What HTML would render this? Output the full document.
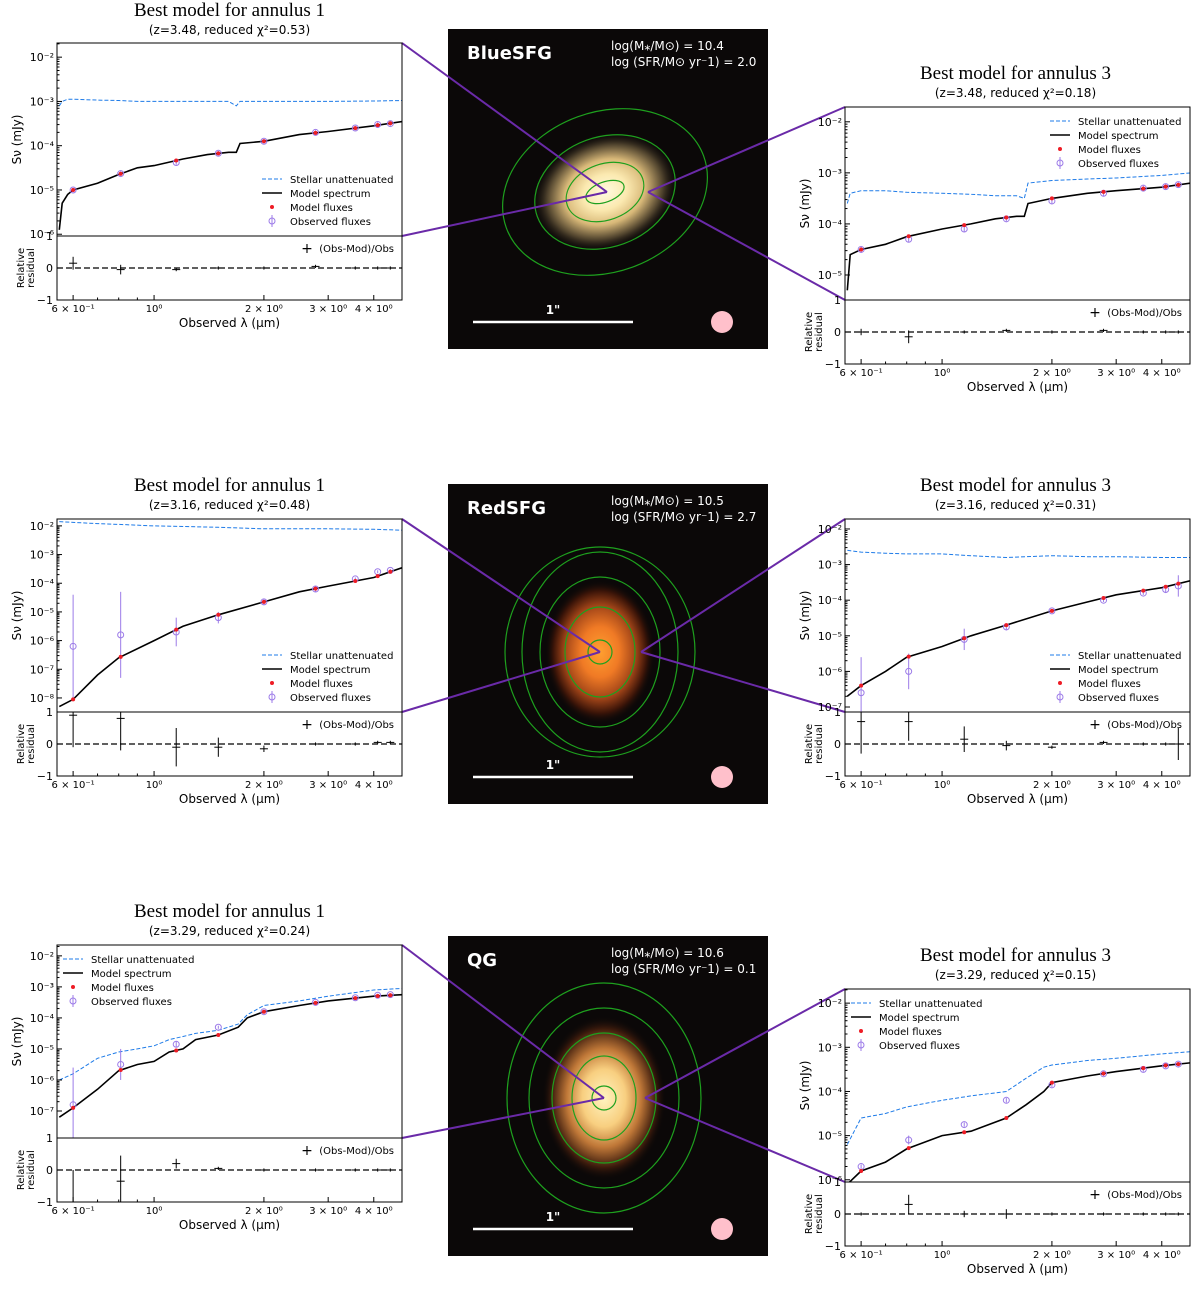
<!DOCTYPE html>
<html><head><meta charset="utf-8"><style>
body{margin:0;background:#fff;}
svg{display:block;font-family:"DejaVu Sans","Liberation Sans",sans-serif;}
</style></head><body>
<svg id="fig" width="1200" height="1293" viewBox="0 0 1200 1293" xmlns="http://www.w3.org/2000/svg">
<defs>
<radialGradient id="gBlue" cx="50%" cy="50%" r="50%"><stop offset="0" stop-color="#fffbe0"/><stop offset="0.3" stop-color="#fbe9b0"/><stop offset="0.55" stop-color="#d8b878"/><stop offset="0.8" stop-color="#4a3e2a"/><stop offset="1" stop-color="#0b0808" stop-opacity="0"/></radialGradient>
<radialGradient id="gRed" cx="50%" cy="50%" r="50%"><stop offset="0" stop-color="#ffa030"/><stop offset="0.35" stop-color="#f07a25"/><stop offset="0.65" stop-color="#a04418"/><stop offset="0.85" stop-color="#3a1408"/><stop offset="1" stop-color="#0b0808" stop-opacity="0"/></radialGradient>
<radialGradient id="gQ" cx="50%" cy="50%" r="50%"><stop offset="0" stop-color="#fff4c0"/><stop offset="0.35" stop-color="#f8cf80"/><stop offset="0.6" stop-color="#c07838"/><stop offset="0.85" stop-color="#3a1a0c"/><stop offset="1" stop-color="#0b0808" stop-opacity="0"/></radialGradient>
</defs>
</svg>
<script>
// ---- data arrays ----
const lamFlux=[0.6,0.81,1.15,1.5,2.0,2.77,3.56,4.1,4.44];
// panel 1 (BlueSFG annulus 1)
const p1Lam=[0.55,0.56,0.58,0.6,0.7,0.8,0.9,1.0,1.2,1.4,1.6,1.68,1.72,2.0,2.5,3.0,4.0,4.8];
const p1Model=[-5.9,-5.3,-5.1,-5.0,-4.85,-4.65,-4.5,-4.45,-4.3,-4.2,-4.15,-4.15,-3.95,-3.9,-3.75,-3.68,-3.55,-3.45];
const p1Stellar=[-3.1,-3.0,-2.95,-2.95,-2.97,-2.98,-3.0,-3.0,-3.0,-3.0,-3.0,-3.1,-3.0,-3.0,-3.0,-3.0,-2.99,-2.98];
const p1Obs=[-5.0,-4.63,-4.38,-4.17,-3.9,-3.7,-3.6,-3.52,-3.5];
const p1Res=[0.15,-0.05,-0.05,0.0,0.0,0.05,0.0,0.0,0.0];
const p1Err=[0.2,0.15,0.05,0.05,0.05,0.05,0.05,0.05,0.05];
// panel 2 (BlueSFG annulus 3)
const p2Lam=[0.55,0.56,0.6,0.7,0.8,1.0,1.2,1.4,1.6,1.68,1.72,2.0,2.5,3.0,4.0,4.8];
const p2Model=[-5.3,-4.6,-4.5,-4.4,-4.25,-4.1,-4.0,-3.9,-3.85,-3.85,-3.6,-3.5,-3.4,-3.35,-3.28,-3.2];
const p2Stellar=[-3.6,-3.4,-3.35,-3.35,-3.38,-3.4,-3.42,-3.45,-3.45,-3.5,-3.2,-3.15,-3.12,-3.1,-3.05,-3.0];
const p2Obs=[-4.5,-4.3,-4.1,-3.9,-3.55,-3.4,-3.3,-3.27,-3.23];
const p2Res=[0.0,-0.15,0.0,0.05,0.0,0.05,0.0,0.0,0.0];
const p2Err=[0.1,0.2,0.05,0.05,0.05,0.05,0.05,0.05,0.05];
// panel 3 (RedSFG annulus 1)
const p3Lam=[0.55,0.6,0.7,0.8,1.0,1.2,1.5,2.0,2.5,3.0,4.0,4.8];
const p3Model=[-8.3,-8.05,-7.2,-6.6,-6.0,-5.5,-5.1,-4.65,-4.3,-4.1,-3.8,-3.45];
const p3Stellar=[-1.85,-1.88,-1.92,-1.95,-2.0,-2.02,-2.05,-2.1,-2.1,-2.1,-2.12,-2.15];
const p3Obs=[-6.2,-5.8,-5.7,-5.2,-4.65,-4.2,-3.85,-3.6,-3.55];
const p3ObsErr=[1.8,1.5,0.5,0.2,0.1,0.1,0.05,0.05,0.05];
const p3Res=[0.9,0.8,-0.1,-0.1,-0.15,0.0,0.0,0.05,0.05];
const p3Err=[1.0,1.0,0.6,0.3,0.1,0.05,0.05,0.05,0.05];
// panel 4 (RedSFG annulus 3)
const p4Lam=[0.55,0.6,0.7,0.8,1.0,1.2,1.5,2.0,2.5,3.0,4.0,4.8];
const p4Model=[-6.7,-6.4,-6.0,-5.6,-5.3,-5.0,-4.7,-4.3,-4.05,-3.85,-3.65,-3.45];
const p4Stellar=[-2.6,-2.65,-2.68,-2.7,-2.7,-2.75,-2.8,-2.75,-2.78,-2.78,-2.8,-2.8];
const p4Obs=[-6.6,-6.0,-5.1,-4.75,-4.3,-4.0,-3.8,-3.7,-3.6];
const p4ObsErr=[1.0,0.5,0.3,0.1,0.05,0.05,0.05,0.1,0.3];
const p4Res=[0.7,0.7,0.15,-0.05,-0.1,0.05,0.0,0.0,0.0];
const p4Err=[1.0,0.6,0.4,0.15,0.05,0.05,0.05,0.05,0.5];
// panel 5 (QG annulus 1)
const p5Lam=[0.55,0.6,0.7,0.8,0.9,1.0,1.1,1.2,1.3,1.5,1.7,1.8,2.0,2.5,3.0,4.0,4.8];
const p5Model=[-7.2,-6.9,-6.3,-5.7,-5.5,-5.4,-5.1,-5.0,-4.7,-4.55,-4.3,-4.0,-3.8,-3.6,-3.45,-3.3,-3.25];
const p5Stellar=[-6.0,-5.8,-5.3,-5.1,-5.0,-4.9,-4.7,-4.6,-4.5,-4.4,-4.2,-3.9,-3.6,-3.45,-3.3,-3.1,-3.05];
const p5Obs=[-6.8,-5.5,-4.85,-4.3,-3.8,-3.5,-3.35,-3.27,-3.25];
const p5ObsErr=[1.2,0.5,0.1,0.05,0.05,0.05,0.05,0.05,0.05];
const p5Res=[-1.0,-0.35,0.2,0.05,0.0,0.0,0.0,0.0,0.0];
const p5Err=[1.0,0.8,0.15,0.05,0.05,0.05,0.05,0.05,0.05];
// panel 6 (QG annulus 3)
const p6Lam=[0.55,0.6,0.7,0.8,1.0,1.2,1.5,1.7,1.9,2.0,2.5,3.0,4.0,4.8];
const p6Model=[-6.1,-5.8,-5.6,-5.3,-5.0,-4.9,-4.6,-4.3,-4.0,-3.8,-3.65,-3.55,-3.42,-3.35];
const p6Stellar=[-5.2,-4.6,-4.5,-4.35,-4.2,-4.1,-4.0,-3.7,-3.45,-3.4,-3.3,-3.25,-3.15,-3.1];
const p6Obs=[-5.7,-5.1,-4.75,-4.2,-3.85,-3.6,-3.5,-3.42,-3.38];
const p6ObsErr=[0.05,0.1,0.05,0.05,0.05,0.05,0.05,0.05,0.05];
const p6Res=[0.0,0.3,0.0,0.0,0.0,0.0,0.0,0.0,0.0];
const p6Err=[0.05,0.3,0.1,0.15,0.05,0.05,0.05,0.05,0.05];

const NS='http://www.w3.org/2000/svg';
const svg=document.getElementById('fig');
function mk(tag,attrs,parent,text){const e=document.createElementNS(NS,tag);for(const k in attrs)e.setAttribute(k,attrs[k]);if(text!==undefined)e.textContent=text;(parent||svg).appendChild(e);return e;}

const supMap={'-':'⁻','0':'⁰','1':'¹','2':'²','3':'³','4':'⁴','5':'⁵','6':'⁶','7':'⁷','8':'⁸','9':'⁹'};
function sup(s){return s.split('').map(c=>supMap[c]).join('');}

function panel(o){
  const g=mk('g',{});
  
  
  const x0=o.x,x1=o.x+345,y0=o.y,y1=o.y+193,r1=y1+64;
  const lmin=Math.log10(0.542),lmax=Math.log10(4.78);
  const X=l=>x0+(Math.log10(l)-lmin)/(lmax-lmin)*(x1-x0);
  const Y=v=>y0+(o.top-v)/(o.top-o.bot)*(y1-y0);
  const R=v=>y1+(1-v)/2*(r1-y1);
  let t=mk('text',{x:(x0+x1)/2-o.tshift,y:o.y-o.tdy,'text-anchor':'middle','font-family':'Liberation Serif,serif','font-size':19},g,o.title);
  
  t=mk('text',{x:(x0+x1)/2-o.tshift,y:o.y-o.tdy+18,'text-anchor':'middle','font-size':12},g,o.sub);
  
  const cp='cp'+o.id;
  const cl=mk('clipPath',{id:cp},g);mk('rect',{x:x0,y:y0,width:345,height:193},cl);
  const cg=mk('g',{'clip-path':'url(#'+cp+')'},g);
  let d=o.lam.map((l,i)=>(i?'L':'M')+X(l).toFixed(1)+','+Y(o.stellar[i]).toFixed(1)).join('');
  let p=mk('path',{d:d,fill:'none',stroke:'#1e7be8','stroke-width':1,'stroke-dasharray':'4,2'},cg);
  
  d=o.lam.map((l,i)=>(i?'L':'M')+X(l).toFixed(1)+','+Y(o.model[i]).toFixed(1)).join('');
  p=mk('path',{d:d,fill:'none',stroke:'#000','stroke-width':1.6},cg);
  
  lamFlux.forEach((l,i)=>{
    const yv=o.obs[i],e=o.obsErr?o.obsErr[i]:0.05;
    const ln=mk('line',{x1:X(l),x2:X(l),y1:Y(yv+e),y2:Y(yv-e),stroke:'#9c7be8','stroke-width':1},cg);
    
    const c=mk('circle',{cx:X(l),cy:Y(yv),r:3,fill:'none',stroke:'#9c7be8','stroke-width':1},cg);
    
    let mi=0;for(let k=0;k<o.lam.length-1;k++)if(o.lam[k+1]>=l){mi=k;break;}
    const f=(Math.log10(l)-Math.log10(o.lam[mi]))/(Math.log10(o.lam[mi+1])-Math.log10(o.lam[mi]));
    const mv=o.model[mi]+f*(o.model[mi+1]-o.model[mi]);
    const mc=mk('circle',{cx:X(l),cy:Y(mv),r:2,fill:'#ee1c25'},cg);
    
  });
  mk('rect',{x:x0,y:y0,width:345,height:193,fill:'none',stroke:'#000','stroke-width':1},g);
  mk('rect',{x:x0,y:y1,width:345,height:64,fill:'none',stroke:'#000','stroke-width':1},g);
  for(let e=Math.ceil(o.bot);e<=Math.floor(o.top);e++){
    const yy=Y(e);
    mk('line',{x1:x0,x2:x0+5,y1:yy,y2:yy,stroke:'#000'},g);
    t=mk('text',{x:x0-3,y:yy+4,'text-anchor':'end','font-size':11},g,'10'+sup(String(e)));
    
    for(let m=2;m<10;m++){const ym=Y(e+Math.log10(m));if(ym>y0&&ym<y1)mk('line',{x1:x0,x2:x0+2.5,y1:ym,y2:ym,stroke:'#000'},g);}
  }
  t=mk('text',{transform:`translate(${x0-36},${(y0+y1)/2}) rotate(-90)`,'text-anchor':'middle','font-size':12},g,'Sν (mJy)');
  
  [1,0,-1].forEach(v=>{mk('line',{x1:x0,x2:x0+5,y1:R(v),y2:R(v),stroke:'#000'},g);
    mk('text',{x:x0-4,y:R(v)+4,'text-anchor':'end','font-size':11},g,v<0?'−1':String(v));});
  t=mk('text',{transform:`translate(${x0-33},${(y1+r1)/2}) rotate(-90)`,'text-anchor':'middle','font-size':10},g,'Relative');
  
  mk('text',{transform:`translate(${x0-23},${(y1+r1)/2}) rotate(-90)`,'text-anchor':'middle','font-size':10},g,'residual');
  mk('line',{x1:x0,x2:x1,y1:R(0),y2:R(0),stroke:'#000','stroke-dasharray':'6,3','stroke-width':1.3},g);
  lamFlux.forEach((l,i)=>{
    const v=o.res[i],e=o.resErr[i];
    const a=mk('line',{x1:X(l),x2:X(l),y1:Math.max(y1,R(v+e)),y2:Math.min(r1,R(v-e)),stroke:'#000'},g);
    
    mk('line',{x1:X(l)-4,x2:X(l)+4,y1:R(v),y2:R(v),stroke:'#000'},g);
  });
  mk('text',{x:x1-8,y:y1+16,'text-anchor':'end','font-size':10},g,'(Obs-Mod)/Obs');
  mk('text',{x:x1-95,y:y1+17,'text-anchor':'middle','font-size':14},g,'+');
  [[0.6,'6 × 10⁻¹'],[1,'10⁰'],[2,'2 × 10⁰'],[3,'3 × 10⁰'],[4,'4 × 10⁰']].forEach(([l,s])=>{
    mk('line',{x1:X(l),x2:X(l),y1:r1,y2:r1-5,stroke:'#000'},g);
    const tt=mk('text',{x:X(l),y:r1+12,'text-anchor':'middle','font-size':10},g,s);
    
  });
  [0.7,0.8,0.9].forEach(l=>mk('line',{x1:X(l),x2:X(l),y1:r1,y2:r1-2.5,stroke:'#000'},g));
  t=mk('text',{x:(x0+x1)/2,y:r1+27,'text-anchor':'middle','font-size':12},g,'Observed λ (μm)');
  
  const lx=o.legLeft?x0+6:x1-140, ly=o.legTop?y0+14:y1-57;
  const items=[['Stellar unattenuated','dash'],['Model spectrum','line'],['Model fluxes','dot'],['Observed fluxes','obs']];
  const lg=mk('g',{},g);
  items.forEach(([s,k],i)=>{
    const yy=ly+i*14;
    if(k==='dash')mk('line',{x1:lx,x2:lx+20,y1:yy,y2:yy,stroke:'#1e7be8','stroke-dasharray':'4,2'},lg);
    if(k==='line')mk('line',{x1:lx,x2:lx+20,y1:yy,y2:yy,stroke:'#000','stroke-width':1.6},lg);
    if(k==='dot')mk('circle',{cx:lx+10,cy:yy,r:2,fill:'#ee1c25'},lg);
    if(k==='obs'){mk('circle',{cx:lx+10,cy:yy,r:3,fill:'none',stroke:'#9c7be8'},lg);mk('line',{x1:lx+10,x2:lx+10,y1:yy-6,y2:yy+6,stroke:'#9c7be8'},lg);}
    const tt=mk('text',{x:lx+28,y:yy+4,'font-size':10},lg,s);
    
  });
}

function image(o){
  const g=mk('g',{});
  
  mk('rect',{x:448,y:o.y,width:320,height:320,fill:'#0b0808'},g);
  mk('ellipse',{cx:o.cx,cy:o.cy,rx:o.rx,ry:o.ry,fill:'url(#'+o.grad+')',transform:`rotate(${o.rot} ${o.cx} ${o.cy})`},g);
  o.ells.forEach(([rx,ry])=>{const e=mk('ellipse',{cx:o.cx,cy:o.cy,rx:rx,ry:ry,fill:'none',stroke:'#1ea01e','stroke-width':1.2,transform:`rotate(${o.rot} ${o.cx} ${o.cy})`},g);
    });
  let t=mk('text',{x:467,y:o.y+30,fill:'#fff','font-size':18,'font-weight':'bold'},g,o.label);
  
  mk('text',{x:611,y:o.y+21,fill:'#fff','font-size':12},g,'log(M⁎/M⊙) = '+o.m);
  mk('text',{x:611,y:o.y+37,fill:'#fff','font-size':12},g,'log (SFR/M⊙ yr⁻1) = '+o.s);
  mk('line',{x1:473,x2:633,y1:o.y+293,y2:o.y+293,stroke:'#fff','stroke-width':2.5},g);
  t=mk('text',{x:553,y:o.y+285,fill:'#fff','font-size':12,'font-weight':'bold','text-anchor':'middle'},g,'1"');
  
  const c=mk('circle',{cx:722,cy:o.y+293,r:11,fill:'#ffc0cb'},g);
  
  o.lines.forEach(([a,b,cx,cy])=>mk('line',{x1:a,y1:b,x2:cx,y2:cy,stroke:'#6a2aa8','stroke-width':2},svg));
}

image({name:'bluesfg-image',y:29,cx:605,cy:192,rx:75,ry:58,rot:-20,grad:'gBlue',ells:[[20,10],[40,28],[72,55],[105,80]],label:'BlueSFG',m:'10.4',s:'2.0',
  lines:[[402,43,607,192],[402,236,607,192],[845,107,648,192],[845,300,648,192]]});
image({name:'redsfg-image',y:484,cx:600,cy:652,rx:55,ry:72,rot:0,grad:'gRed',ells:[[12,12],[35,45],[60,75],[78,100],[95,105]],label:'RedSFG',m:'10.5',s:'2.7',
  lines:[[402,519,600,652],[402,712,600,652],[845,519,641,652],[845,712,641,652]]});
image({name:'qg-image',y:936,cx:604,cy:1098,rx:62,ry:82,rot:0,grad:'gQ',ells:[[12,12],[32,42],[52,65],[75,90],[97,115]],label:'QG',m:'10.6',s:'0.1',
  lines:[[402,945,604,1098],[402,1138,604,1098],[845,989,645,1098],[845,1182,645,1098]]});

panel({id:1,name:'sed-bluesfg-annulus1',x:57,y:43,top:-1.68,bot:-6.04,title:'Best model for annulus 1',sub:'(z=3.48, reduced χ²=0.53)',tdy:27,tshift:0,
  lam:p1Lam,model:p1Model,stellar:p1Stellar,obs:p1Obs,res:p1Res,resErr:p1Err,legLeft:false,legTop:false});
panel({id:2,name:'sed-bluesfg-annulus3',x:845,y:107,top:-1.71,bot:-5.49,title:'Best model for annulus 3',sub:'(z=3.48, reduced χ²=0.18)',tdy:28,tshift:2,
  lam:p2Lam,model:p2Model,stellar:p2Stellar,obs:p2Obs,res:p2Res,resErr:p2Err,legLeft:false,legTop:true});
panel({id:3,name:'sed-redsfg-annulus1',x:57,y:519,top:-1.76,bot:-8.49,title:'Best model for annulus 1',sub:'(z=3.16, reduced χ²=0.48)',tdy:28,tshift:0,
  lam:p3Lam,model:p3Model,stellar:p3Stellar,obs:p3Obs,obsErr:p3ObsErr,res:p3Res,resErr:p3Err,legLeft:false,legTop:false});
panel({id:4,name:'sed-redsfg-annulus3',x:845,y:519,top:-1.72,bot:-7.14,title:'Best model for annulus 3',sub:'(z=3.16, reduced χ²=0.31)',tdy:28,tshift:2,
  lam:p4Lam,model:p4Model,stellar:p4Stellar,obs:p4Obs,obsErr:p4ObsErr,res:p4Res,resErr:p4Err,legLeft:false,legTop:false});
panel({id:5,name:'sed-qg-annulus1',x:57,y:945,top:-1.65,bot:-7.87,title:'Best model for annulus 1',sub:'(z=3.29, reduced χ²=0.24)',tdy:28,tshift:0,
  lam:p5Lam,model:p5Model,stellar:p5Stellar,obs:p5Obs,obsErr:p5ObsErr,res:p5Res,resErr:p5Err,legLeft:true,legTop:true});
panel({id:6,name:'sed-qg-annulus3',x:845,y:989,top:-1.68,bot:-6.05,title:'Best model for annulus 3',sub:'(z=3.29, reduced χ²=0.15)',tdy:28,tshift:2,
  lam:p6Lam,model:p6Model,stellar:p6Stellar,obs:p6Obs,obsErr:p6ObsErr,res:p6Res,resErr:p6Err,legLeft:true,legTop:true});
</script>
</body></html>
